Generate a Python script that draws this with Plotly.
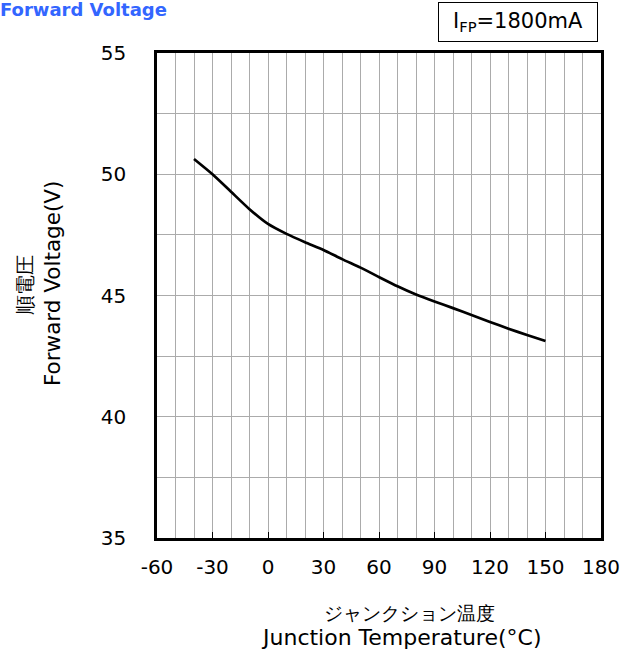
import plotly.graph_objects as go

temp_c = [-40, -30, -20, -10, 0, 10, 20, 30, 40, 50, 60, 70, 80, 90, 100, 110, 120, 130, 140, 150]
voltage_v = [50.63, 50.0, 49.28, 48.56, 47.95, 47.54, 47.2, 46.88, 46.5, 46.15, 45.76,
             45.38, 45.04, 44.75, 44.48, 44.2, 43.91, 43.63, 43.37, 43.12]

x_ticks = [-60, -30, 0, 30, 60, 90, 120, 150, 180]
y_ticks = [35, 40, 45, 50, 55]

FONT = "DejaVu Sans"
GRID = "#ababab"

# plot area in pixels
PL, PR, PT, PB = 157, 601, 53, 538
PW, PH = PR - PL, PB - PT


def px(x):
    return (x - PL) / PW


def py(y):
    return (PB - y) / PH


fig = go.Figure()
fig.add_trace(go.Scatter(x=temp_c, y=voltage_v, mode="lines",
                         line=dict(color="black", width=2.7, shape="spline", smoothing=0.6),
                         showlegend=False, hoverinfo="skip"))

fig.update_layout(
    width=631, height=652,
    margin=dict(l=PL, r=631 - PR, t=PT, b=652 - PB),
    paper_bgcolor="white", plot_bgcolor="white",
    font=dict(family=FONT, size=20, color="black"),
    showlegend=False,
)

fig.update_xaxes(
    range=[-60, 180], tickvals=x_ticks, ticktext=[str(v) for v in x_ticks],
    showgrid=True, gridcolor=GRID, gridwidth=1,
    minor=dict(dtick=10, showgrid=True, gridcolor=GRID, gridwidth=1),
    ticks="inside", ticklen=6, tickcolor="black", tickwidth=1,
    showline=True, linecolor="black", linewidth=2.5, mirror=True,
    zeroline=False, ticklabelstandoff=9,
    tickfont=dict(family=FONT, size=20, color="black"),
)
fig.update_yaxes(
    range=[35, 55], tickvals=y_ticks, ticktext=[str(v) for v in y_ticks],
    showgrid=True, gridcolor=GRID, gridwidth=1,
    minor=dict(dtick=2.5, showgrid=True, gridcolor=GRID, gridwidth=1),
    ticks="", showline=True, linecolor="black", linewidth=2.5, mirror=True,
    zeroline=False, ticklabelstandoff=24,
    tickfont=dict(family=FONT, size=20, color="black"),
)

# Title
fig.add_annotation(text="<b>Forward Voltage</b>", xref="paper", yref="paper",
                   x=px(-2), y=py(0), xanchor="left", yanchor="top", yshift=3,
                   showarrow=False, font=dict(family=FONT, size=18, color="#3366ff"))

# Condition box
fig.add_annotation(text="I<sub>FP</sub>=1800mA", xref="paper", yref="paper",
                   x=px(518), y=py(21.5), xanchor="center", yanchor="middle",
                   showarrow=False, bordercolor="black", borderwidth=1, bgcolor="white",
                   width=156, height=36, borderpad=1,
                   font=dict(family=FONT, size=21, color="black"))

# Y axis title
fig.add_annotation(text="順電圧", xref="paper", yref="paper",
                   x=px(25), y=py(285), xanchor="center", yanchor="middle",
                   textangle=-90, showarrow=False,
                   font=dict(family=FONT, size=20, color="black"))
fig.add_annotation(text="Forward Voltage(V)", xref="paper", yref="paper",
                   x=px(52), y=py(284), xanchor="center", yanchor="middle",
                   textangle=-90, showarrow=False,
                   font=dict(family=FONT, size=21.5, color="black"))

# X axis title
fig.add_annotation(text="ジャンクション温度", xref="paper", yref="paper",
                   x=px(409), y=py(613), xanchor="center", yanchor="middle",
                   showarrow=False,
                   font=dict(family=FONT, size=19, color="black"))
fig.add_annotation(text="Junction Temperature(°C)", xref="paper", yref="paper",
                   x=px(401), y=py(637), xanchor="center", yanchor="middle",
                   showarrow=False,
                   font=dict(family=FONT, size=22, color="black"))

fig.write_html("out.html", config={"displayModeBar": False},
               post_script="document.body.style.margin='0px';document.body.style.overflow='hidden';")
